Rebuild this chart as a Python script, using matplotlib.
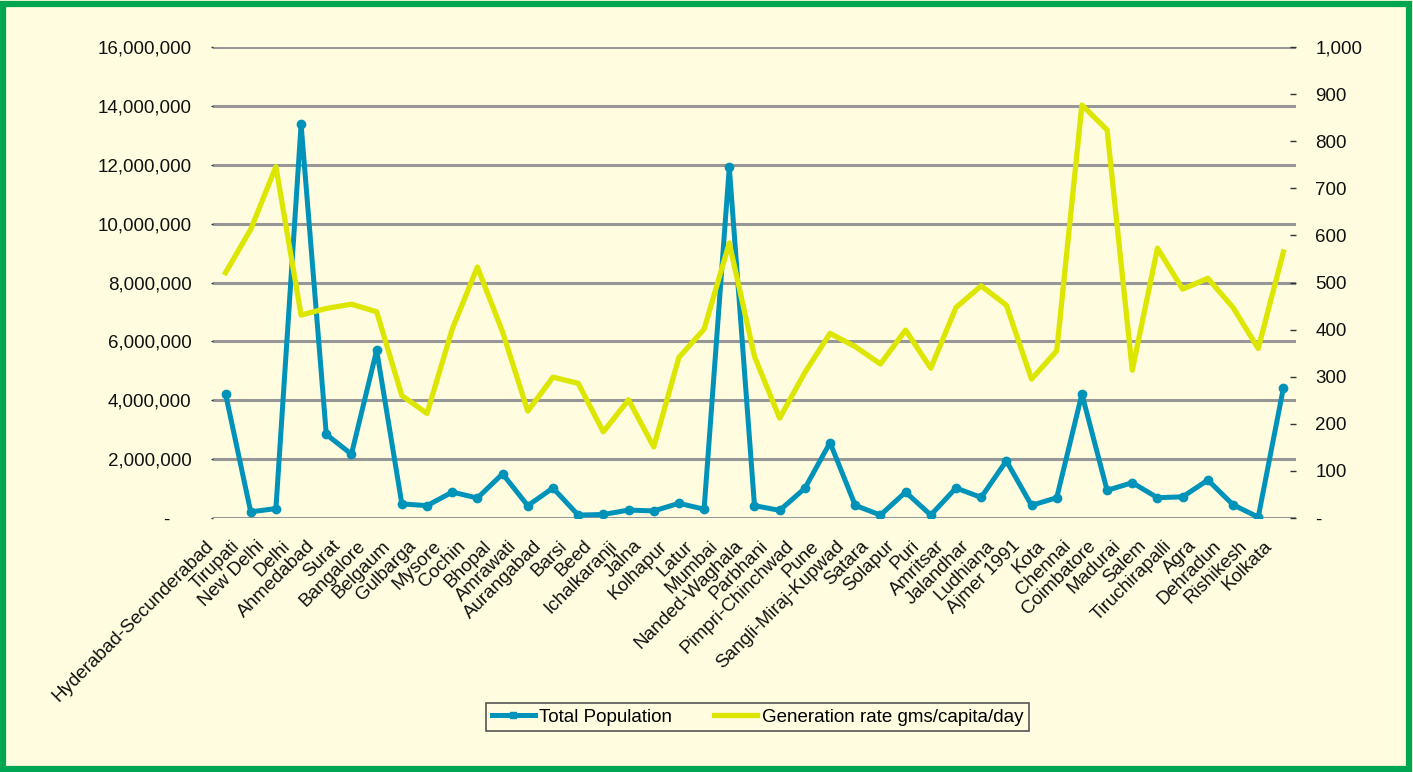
import matplotlib.pyplot as plt
from matplotlib.patches import Rectangle
from matplotlib.transforms import ScaledTranslation

plt.rcParams['font.family'] = ['Liberation Sans', 'DejaVu Sans']

cities = ['Hyderabad-Secunderabad', 'Tirupati', 'New Delhi', 'Delhi', 'Ahmedabad', 'Surat',
          'Bangalore', 'Belgaum', 'Gulbarga', 'Mysore', 'Cochin', 'Bhopal', 'Amrawati',
          'Aurangabad', 'Barsi', 'Beed', 'Ichalkaranji', 'Jalna', 'Kolhapur', 'Latur', 'Mumbai',
          'Nanded-Waghala', 'Parbhani', 'Pimpri-Chinchwad', 'Pune', 'Sangli-Miraj-Kupwad',
          'Satara', 'Solapur', 'Puri', 'Amritsar', 'Jalandhar', 'Ludhiana', 'Ajmer 1991', 'Kota',
          'Chennai', 'Coimbatore', 'Madurai', 'Salem', 'Tiruchirapalli', 'Agra', 'Dehradun',
          'Rishikesh', 'Kolkata']

# total population
population = [4220000, 210000, 320000, 13370000, 2840000, 2170000,
              5700000, 480000, 420000, 880000, 680000, 1500000, 420000,
              1020000, 100000, 120000, 270000, 240000, 500000, 300000, 11920000,
              420000, 260000, 1010000, 2560000, 430000,
              100000, 880000, 100000, 1020000, 700000, 1940000, 430000, 690000,
              4210000, 940000, 1200000, 690000, 720000, 1290000, 450000,
              30000, 4420000]

# generation rate gms/capita/day
gen_rate = [521, 613, 746, 431, 445, 454,
            438, 260, 222, 401, 533, 395, 227,
            299, 286, 183, 251, 151, 341, 401, 584,
            343, 212, 309, 392, 364,
            327, 399, 318, 447, 493, 452, 295, 355,
            877, 824, 314, 573, 486, 509, 447,
            360, 565]

bg = '#FFFCDF'
blue = '#0093B9'
yellow = '#DDE600'
fs = 13.5

fig = plt.figure(figsize=(14.13, 7.72), dpi=100)
fig.patch.set_facecolor(bg)
fig.patches.append(Rectangle((0.002, 0.004), 0.995, 0.991, transform=fig.transFigure,
                             fill=False, edgecolor='#00A651', linewidth=4.5))

ax1 = fig.add_axes([0.1507, 0.329, 0.7665, 0.610])
ax1.set_facecolor(bg)
ax2 = ax1.twinx()

x = list(range(len(cities)))

l1, = ax1.plot(x, population, color=blue, lw=3.6, marker='o', markersize=6,
               label='Total Population', zorder=3)
l2, = ax2.plot(x, gen_rate, color=yellow, lw=3.8, label='Generation rate gms/capita/day',
               zorder=3)

ax1.set_xlim(-0.5, len(cities) - 0.5)
ax1.set_ylim(0, 16000000)
ax2.set_ylim(0, 1000)

lticks = list(range(0, 16000001, 2000000))
ax1.set_yticks(lticks)
ax1.set_yticklabels(['-    ' if v == 0 else f'{v:,}' for v in lticks])
rticks = list(range(0, 1001, 100))
ax2.set_yticks(rticks)
ax2.set_yticklabels(['-' if v == 0 else f'{v:,}' for v in rticks])

ax1.grid(axis='y', color='#979797', lw=2.2)
ax1.set_axisbelow(True)

for ax in (ax1, ax2):
    for s in ax.spines.values():
        s.set_visible(False)

ax1.tick_params(axis='y', length=1.5, width=1, color='#333333', pad=14,
                labelsize=fs, labelcolor='#111111')
ax2.tick_params(axis='y', direction='in', length=4.5, width=1, color='#333333', pad=14,
                labelsize=fs, labelcolor='#111111')

ax1.set_xticks(x)
ax1.set_xticklabels(cities, rotation=45, ha='right', va='top', rotation_mode='anchor',
                    fontsize=fs, color='#111111')
ax1.tick_params(axis='x', length=0, pad=14)
shift = ScaledTranslation(-0.2, 0, fig.dpi_scale_trans)
for lab in ax1.get_xticklabels():
    lab.set_transform(lab.get_transform() + shift)

leg = fig.legend(handles=[l1, l2], loc='center', bbox_to_anchor=(0.536, 0.071), ncol=2,
                 fontsize=fs, frameon=True, fancybox=False, edgecolor='#555555',
                 facecolor=bg, framealpha=1, handlelength=2.3, columnspacing=2.2,
                 borderpad=0.3, handletextpad=0.25, borderaxespad=0)
leg.get_frame().set_linewidth(1.2)
leg.legend_handles[0].set_marker('s')
leg.legend_handles[0].set_markersize(4)

fig.savefig('out.png', dpi=100, facecolor=bg)
